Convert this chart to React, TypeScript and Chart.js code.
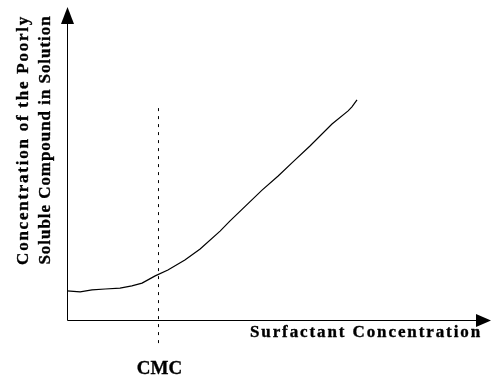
import React, { useEffect, useRef } from "react";
import { Chart, registerables } from "chart.js";

Chart.register(...registerables);

// Curve (arbitrary units, 0..100 on both axes)
const curveX = [0, 3.1, 5.9, 9.0, 12.5, 15.3, 17.7, 20.8, 23.8, 27.8, 31.4, 36.1, 38.4, 46.0, 49.8, 53.3, 57.3, 62.5, 66.3, 67.2, 68.4];
const curveY = [9.3, 9.0, 9.6, 9.9, 10.2, 10.9, 11.8, 14.1, 16.0, 19.2, 22.7, 28.4, 31.6, 41.5, 46.0, 50.5, 55.6, 62.6, 66.8, 68.1, 70.3];

// CMC marker
const cmcX = 21.58;
const cmcYRange = [67.7, -8.3];
const cmcLabel = "CMC";

const xTitle = "Surfactant Concentration";
const yTitleLines = ["Concentration of the Poorly", "Soluble Compound in Solution"];

export default function App() {
  const ref = useRef<HTMLCanvasElement | null>(null);

  useEffect(() => {
    if (!ref.current) return;
    const boldText = (ctx: CanvasRenderingContext2D, s: string, x: number, y: number) => {
      ctx.fillText(s, x, y);
      ctx.lineWidth = 0.35;
      ctx.strokeText(s, x, y);
    };
    const decor = {
      id: "decor",
      afterDraw(chart: any) {
        const ctx = chart.ctx as CanvasRenderingContext2D;
        const a = chart.chartArea;
        const x0 = Math.round(a.left) + 0.5;
        const y0 = Math.round(a.bottom) + 0.5;
        ctx.save();
        ctx.strokeStyle = "#000";
        ctx.fillStyle = "#000";
        ctx.lineWidth = 1;
        // y axis
        ctx.beginPath();
        ctx.moveTo(x0, y0);
        ctx.lineTo(x0, a.top + 16);
        ctx.stroke();
        ctx.beginPath();
        ctx.moveTo(x0, a.top);
        ctx.lineTo(x0 - 6.5, a.top + 17);
        ctx.lineTo(x0 + 6.5, a.top + 17);
        ctx.closePath();
        ctx.fill();
        // x axis
        ctx.beginPath();
        ctx.moveTo(x0, y0);
        ctx.lineTo(a.right - 14, y0);
        ctx.stroke();
        ctx.beginPath();
        ctx.moveTo(a.right, y0);
        ctx.lineTo(a.right - 15, y0 - 6.5);
        ctx.lineTo(a.right - 15, y0 + 6.5);
        ctx.closePath();
        ctx.fill();

        // x title
        ctx.textBaseline = "middle";
        ctx.textAlign = "center";
        ctx.font = "bold 17px 'Liberation Serif', serif";
        (ctx as any).letterSpacing = "1.9px";
        boldText(ctx, xTitle, 366, 333);

        // CMC label
        (ctx as any).letterSpacing = "0px";
        ctx.font = "bold 19px 'Liberation Serif', serif";
        const cx = chart.scales.x.getPixelForValue(cmcX);
        boldText(ctx, cmcLabel, cx + 1, 369);

        // y title (two rotated lines)
        ctx.font = "bold 17px 'Liberation Serif', serif";
        const spacings = ["1.75px", "0.95px"];
        const xs = [24, 46];
        yTitleLines.forEach((line, i) => {
          ctx.save();
          ctx.translate(xs[i], 140);
          ctx.rotate(-Math.PI / 2);
          (ctx as any).letterSpacing = spacings[i];
          boldText(ctx, line, 0, 0);
          ctx.restore();
        });
        ctx.restore();
      },
    };

    const chart = new Chart(ref.current, {
      type: "line",
      data: {
        datasets: [
          {
            data: curveX.map((x, i) => ({ x, y: curveY[i] })),
            borderColor: "#000",
            borderWidth: 1.2,
            pointRadius: 0,
            tension: 0,
            fill: false,
          },
          {
            data: cmcYRange.map((y) => ({ x: cmcX, y })),
            borderColor: "#000",
            borderWidth: 1,
            borderDash: [3, 5],
            pointRadius: 0,
            clip: false as any,
            fill: false,
          },
        ],
      },
      options: {
        animation: false,
        responsive: false,
        maintainAspectRatio: false,
        layout: { padding: { left: 67, right: 9, top: 7, bottom: 65 } },
        plugins: { legend: { display: false }, tooltip: { enabled: false }, title: { display: false } },
        scales: {
          x: { type: "linear", min: 0, max: 100, display: false },
          y: { type: "linear", min: 0, max: 100, display: false },
        },
      },
      plugins: [decor],
    });
    return () => chart.destroy();
  }, []);

  return (
    <div style={{ position: "fixed", left: 0, top: 0, width: 500, height: 385, background: "#fff" }}>
      <canvas ref={ref} width={500} height={385} style={{ display: "block", width: 500, height: 385 }} />
    </div>
  );
}
